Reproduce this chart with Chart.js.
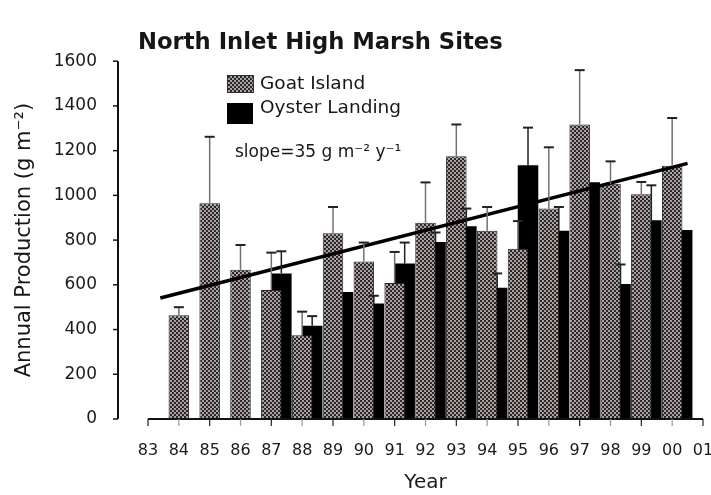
<!DOCTYPE html>
<html>
<head>
<meta charset="utf-8">
<script src="https://cdn.jsdelivr.net/npm/chart.js@4"></script>
<style>
  html, body { margin: 0; padding: 0; background: #fff; }
</style>
</head>
<body>
<canvas id="myChart" width="711" height="495"></canvas>
<script>
// axis ticks 83 .. 01
const tickYears = [1983, 1984, 1985, 1986, 1987, 1988, 1989, 1990, 1991, 1992,
  1993, 1994, 1995, 1996, 1997, 1998, 1999, 2000, 2001];
const tickLabels = ['83', '84', '85', '86', '87', '88', '89', '90', '91', '92',
  '93', '94', '95', '96', '97', '98', '99', '00', '01'];

// years with data
const years = [1984, 1985, 1986, 1987, 1988, 1989, 1990, 1991, 1992,
  1993, 1994, 1995, 1996, 1997, 1998, 1999, 2000];

const goatIsland    = [464, 965, 667, 577, 374, 831, 704, 608, 878, 1175, 842, 761, 941, 1317, 1052, 1005, 1132];
const goatIslandErr = [36, 297, 111, 167, 106, 117, 85, 139, 180, 142, 106, 124, 274, 243, 100, 55, 214];

const oysterLanding    = [null, null, null, 651, 417, 568, 517, 695, 791, 862, 587, 1135, 842, 1059, 604, 889, 845];
const oysterLandingErr = [null, null, null, 99, 43, null, 34, 94, 43, 79, 64, 168, 106, null, 87, 156, null];

// regression line end points
const trendYears  = [1983.4, 2000.5];
const trendValues = [541, 1143];

const FONT = 'DejaVu Sans';
const yTitle = 'Annual Production (g m\u207B\u00B2)';

function makePattern() {
  const c = document.createElement('canvas');
  c.width = 4; c.height = 4;
  const g = c.getContext('2d');
  g.fillStyle = '#aaa2a2';
  g.fillRect(0, 0, 4, 4);
  g.fillStyle = '#2c2626';
  g.fillRect(0, 0, 2, 2);
  g.fillRect(2, 2, 2, 2);
  return g.createPattern(c, 'repeat');
}
const grayPattern = makePattern();

// error bars, axes, titles, legend and slope text
const extras = {
  id: 'extras',
  afterDatasetsDraw(chart) {
    const { ctx, chartArea, scales: { x, y } } = chart;
    ctx.save();

    [[2, goatIslandErr, '#777070'], [3, oysterLandingErr, '#222']].forEach(([di, errs, col]) => {
      const meta = chart.getDatasetMeta(di);
      const vals = chart.data.datasets[di].data;
      meta.data.forEach((bar, i) => {
        if (vals[i] == null || !errs[i]) return;
        const top = y.getPixelForValue(vals[i] + errs[i]);
        ctx.strokeStyle = col;
        ctx.lineWidth = 1.5;
        ctx.beginPath(); ctx.moveTo(bar.x, bar.y); ctx.lineTo(bar.x, top); ctx.stroke();
        ctx.strokeStyle = '#222';
        ctx.lineWidth = 2;
        ctx.beginPath(); ctx.moveTo(bar.x - 5, top); ctx.lineTo(bar.x + 5, top); ctx.stroke();
      });
    });

    // y axis sits a bit left of the first year
    const ax = chartArea.left - 30;
    ctx.strokeStyle = '#111';
    ctx.lineWidth = 2;
    ctx.beginPath();
    ctx.moveTo(ax, y.getPixelForValue(1600));
    ctx.lineTo(ax, y.getPixelForValue(0));
    ctx.stroke();
    ctx.lineWidth = 1.5;
    y.ticks.forEach(t => {
      const py = y.getPixelForValue(t.value);
      ctx.beginPath(); ctx.moveTo(ax - 5, py); ctx.lineTo(ax, py); ctx.stroke();
    });

    const ay = y.getPixelForValue(0);
    ctx.lineWidth = 2;
    ctx.beginPath(); ctx.moveTo(x.left, ay); ctx.lineTo(x.right, ay); ctx.stroke();
    ctx.lineWidth = 1.2;
    tickYears.forEach((v, i) => {
      const px = x.getPixelForValue(v);
      ctx.strokeStyle = i % 2 === 0 ? '#222' : '#999';
      ctx.beginPath(); ctx.moveTo(px, ay); ctx.lineTo(px, ay + 7); ctx.stroke();
    });

    ctx.fillStyle = '#161616';
    ctx.textBaseline = 'middle';

    // y axis title
    ctx.save();
    ctx.translate(25, (chartArea.top + chartArea.bottom) / 2);
    ctx.rotate(-Math.PI / 2);
    ctx.textAlign = 'center';
    ctx.font = '21px "' + FONT + '"';
    ctx.fillText(yTitle, 0, 0);
    ctx.restore();

    ctx.font = 'bold 22.7px "' + FONT + '"';
    ctx.fillText('North Inlet High Marsh Sites', 138, 43);

    // legend
    ctx.fillStyle = grayPattern;
    ctx.fillRect(227, 75, 26, 17);
    ctx.strokeStyle = '#333';
    ctx.lineWidth = 1;
    ctx.strokeRect(227.5, 75.5, 26, 17);
    ctx.fillStyle = '#000';
    ctx.fillRect(227, 103, 26, 21);
    ctx.fillStyle = '#161616';
    ctx.font = '18.5px "' + FONT + '"';
    ctx.fillText(chart.data.datasets[2].label, 260, 84);
    ctx.fillText(chart.data.datasets[3].label, 260, 108);

    ctx.font = '17px "' + FONT + '"';
    ctx.fillText('slope=35 g m\u207B\u00B2 y\u207B\u00B9', 235, 153);

    ctx.restore();
  }
};

const ctx = document.getElementById('myChart');

new Chart(ctx, {
  type: 'bar',
  data: {
    labels: years,
    datasets: [
      {
        type: 'line',
        label: 'trend',
        data: trendYears.map((yr, i) => ({ x: yr, y: trendValues[i] })),
        borderColor: '#000',
        borderWidth: 3.5,
        pointRadius: 0
      },
      {
        // empty slot so Goat Island sits centred on its year
        label: '',
        data: [],
        categoryPercentage: 0.974,
        barPercentage: 2.05
      },
      {
        label: 'Goat Island',
        data: goatIsland,
        backgroundColor: grayPattern,
        borderColor: '#2a2525',
        borderWidth: 1,
        categoryPercentage: 0.974,
        barPercentage: 2.05
      },
      {
        label: 'Oyster Landing',
        data: oysterLanding,
        backgroundColor: '#000',
        borderColor: '#000',
        borderWidth: 0,
        categoryPercentage: 0.974,
        barPercentage: 2.05
      }
    ]
  },
  options: {
    responsive: false,
    devicePixelRatio: 1,
    animation: false,
    layout: { padding: { top: 20, right: 8, bottom: 0, left: 0 } },
    plugins: {
      legend: { display: false },
      tooltip: { enabled: false }
    },
    scales: {
      x: {
        type: 'linear',
        min: 1983,
        max: 2001,
        offset: false,
        grid: { display: false, drawTicks: false },
        border: { display: false },
        ticks: {
          stepSize: 1,
          autoSkip: false,
          maxRotation: 0,
          padding: 22,
          color: '#1a1a1a',
          font: { family: FONT, size: 16 },
          callback: v => tickLabels[tickYears.indexOf(v)]
        },
        title: {
          display: true,
          text: 'Year',
          color: '#1a1a1a',
          font: { family: FONT, size: 20 },
          padding: 0
        },
        afterFit: s => { s.height = 76; s.paddingLeft = 0; s.paddingRight = 0; }
      },
      y: {
        min: 0,
        max: 1600,
        grid: { display: false, drawTicks: false },
        border: { display: false },
        ticks: {
          stepSize: 200,
          padding: 51,
          color: '#1a1a1a',
          font: { family: FONT, size: 17 },
          callback: v => String(v)
        },
        afterFit: s => { s.width = 148; }
      }
    }
  },
  plugins: [extras]
});
</script>
</body>
</html>
